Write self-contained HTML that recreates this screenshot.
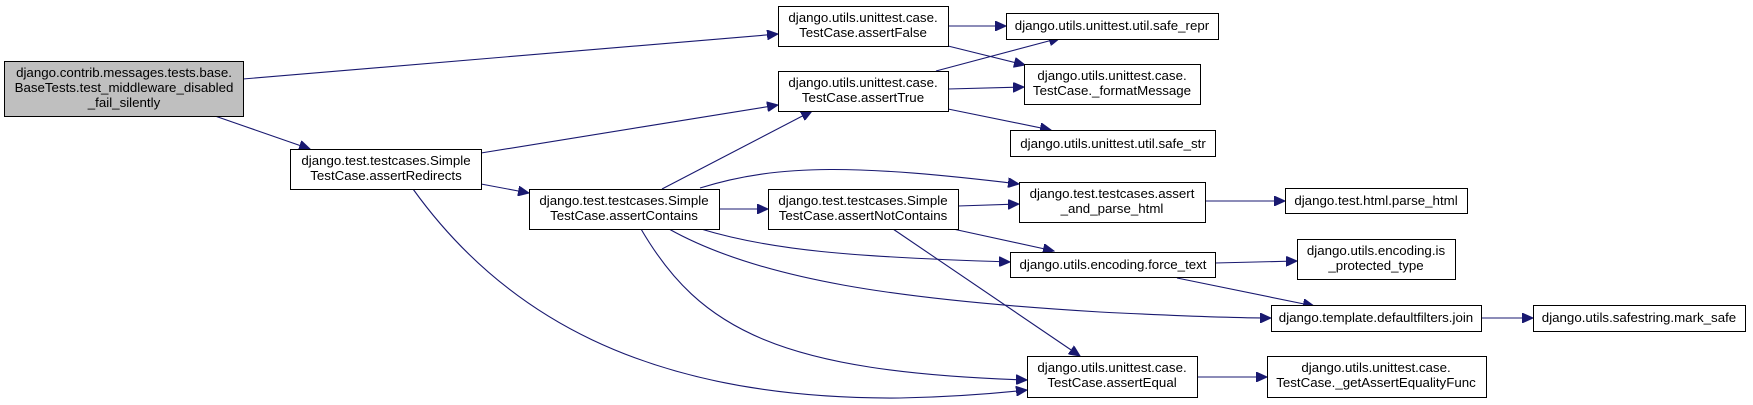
<!DOCTYPE html>
<html><head><meta charset="utf-8"><style>
html,body{margin:0;padding:0;background:#fff;}
svg{display:block;}
text{font-family:"Liberation Sans",Arial,sans-serif;font-size:13.3px;fill:#000;text-anchor:middle;}
.n{fill:#fff;stroke:#000;stroke-width:1;}
.e{fill:none;stroke:#191970;stroke-width:1.1;}
</style></head><body>
<svg width="1753" height="405" viewBox="0 0 1753 405">
<defs>
<marker id="a" markerUnits="userSpaceOnUse" markerWidth="12" markerHeight="10" refX="11" refY="5" orient="auto">
<path d="M0,0 L11,5 L0,10 Z" fill="#191970" stroke="#191970"/>
</marker>
</defs>
<g class="e" marker-end="url(#a)">
<path d="M243,79 L778,34"/>
<path d="M215,116 L310,149"/>
<path d="M481,153 L778,105"/>
<path d="M481,184 L529,193"/>
<path d="M413,189 C500,310 640,400 900,398 C950,397 990,394 1027,390"/>
<path d="M662,189 L812,111"/>
<path d="M700,188 C780,163 860,165 1019,184"/>
<path d="M719,209 L768,209"/>
<path d="M701,229 C770,250 850,257 1010,262"/>
<path d="M669,229 C760,280 900,300 1100,312 C1180,316 1230,318 1271,318"/>
<path d="M641,229 C700,330 780,372 1027,380"/>
<path d="M958,206 L1019,204"/>
<path d="M953,229 L1054,251"/>
<path d="M893,229 L1080,356"/>
<path d="M948,26 L1006,26"/>
<path d="M948,46 L1025,65"/>
<path d="M936,71 L1060,38"/>
<path d="M948,89 L1024,87"/>
<path d="M948,109 L1051,130"/>
<path d="M1205,201 L1285,201"/>
<path d="M1215,263 L1297,261"/>
<path d="M1177,278 L1314,306"/>
<path d="M1481,318 L1533,318"/>
<path d="M1197,377 L1267,377"/>
</g>

<rect x="4.5" y="61.5" width="239" height="55" fill="#bfbfbf" stroke="#000"/>
<text x="124" y="77">django.contrib.messages.tests.base.</text>
<text x="124" y="92">BaseTests.test_middleware_disabled</text>
<text x="124" y="107">_fail_silently</text>

<rect class="n" x="778.5" y="6.5" width="170" height="40"/>
<text x="863" y="22">django.utils.unittest.case.</text>
<text x="863" y="37">TestCase.assertFalse</text>

<rect class="n" x="778.5" y="71.5" width="170" height="40"/>
<text x="863" y="87">django.utils.unittest.case.</text>
<text x="863" y="102">TestCase.assertTrue</text>

<rect class="n" x="290.5" y="149.5" width="191" height="40"/>
<text x="386" y="165">django.test.testcases.Simple</text>
<text x="386" y="180">TestCase.assertRedirects</text>

<rect class="n" x="529.5" y="189.5" width="190" height="40"/>
<text x="624" y="205">django.test.testcases.Simple</text>
<text x="624" y="220">TestCase.assertContains</text>

<rect class="n" x="768.5" y="189.5" width="190" height="40"/>
<text x="863" y="205">django.test.testcases.Simple</text>
<text x="863" y="220">TestCase.assertNotContains</text>

<rect class="n" x="1006.5" y="13.5" width="212" height="26"/>
<text x="1112" y="30">django.utils.unittest.util.safe_repr</text>

<rect class="n" x="1024.5" y="64.5" width="176" height="40"/>
<text x="1112" y="80">django.utils.unittest.case.</text>
<text x="1112" y="95">TestCase._formatMessage</text>

<rect class="n" x="1010.5" y="130.5" width="205" height="26"/>
<text x="1113" y="148">django.utils.unittest.util.safe_str</text>

<rect class="n" x="1019.5" y="182.5" width="186" height="40"/>
<text x="1112" y="198">django.test.testcases.assert</text>
<text x="1112" y="213">_and_parse_html</text>

<rect class="n" x="1285.5" y="188.5" width="182" height="25"/>
<text x="1376" y="205">django.test.html.parse_html</text>

<rect class="n" x="1010.5" y="252.5" width="205" height="25"/>
<text x="1113" y="269">django.utils.encoding.force_text</text>

<rect class="n" x="1297.5" y="239.5" width="158" height="40"/>
<text x="1376" y="255">django.utils.encoding.is</text>
<text x="1376" y="270">_protected_type</text>

<rect class="n" x="1271.5" y="305.5" width="210" height="26"/>
<text x="1376" y="322">django.template.defaultfilters.join</text>

<rect class="n" x="1533.5" y="305.5" width="212" height="26"/>
<text x="1639" y="322">django.utils.safestring.mark_safe</text>

<rect class="n" x="1027.5" y="356.5" width="170" height="41"/>
<text x="1112" y="372">django.utils.unittest.case.</text>
<text x="1112" y="387">TestCase.assertEqual</text>

<rect class="n" x="1267.5" y="356.5" width="219" height="41"/>
<text x="1376" y="372">django.utils.unittest.case.</text>
<text x="1376" y="387">TestCase._getAssertEqualityFunc</text>
</svg>
</body></html>
